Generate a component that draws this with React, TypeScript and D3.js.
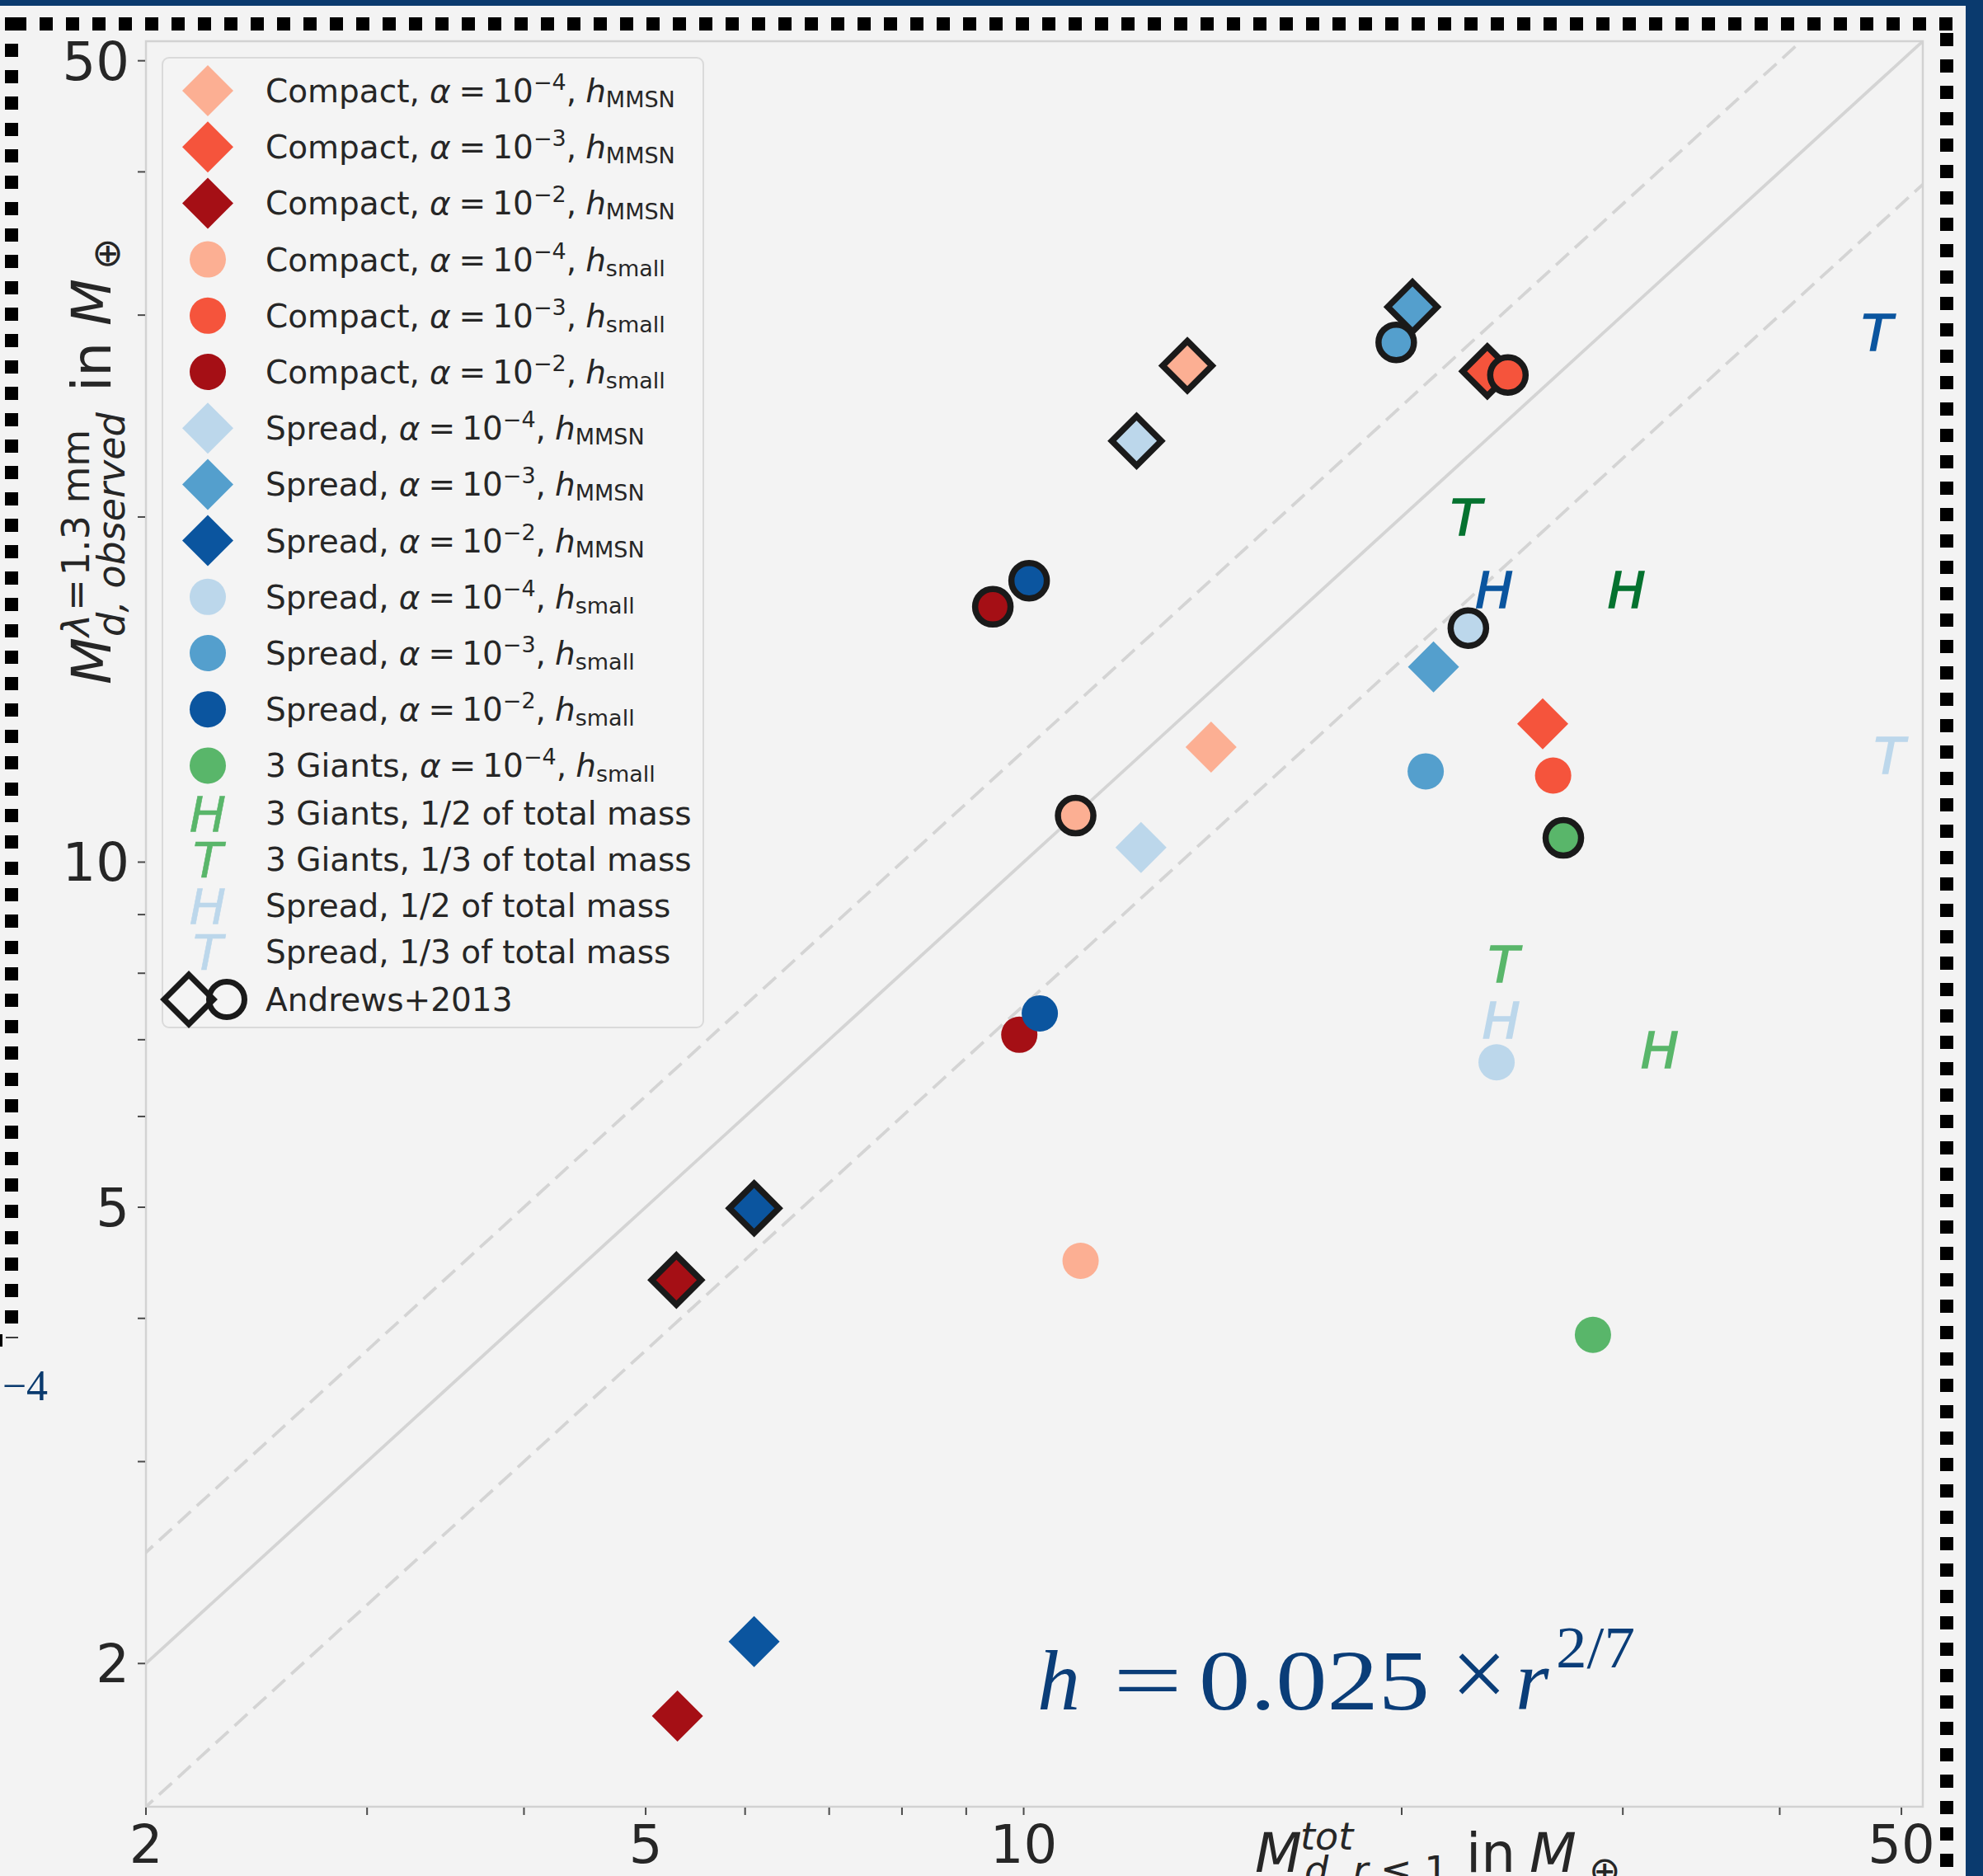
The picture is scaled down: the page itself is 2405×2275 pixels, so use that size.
import React from 'react';
import * as d3 from 'd3';

const W = 2405;
const H = 2275;
const X0 = 177;
const X1 = 2332;
const Y0 = 50;
const Y1 = 2191;

const BG = '#f3f3f3';
const TEXT = '#262626';
const NAVY = '#0a3a6e';
const EDGE = '#1a1a1a';
const FONT = "'DejaVu Sans', sans-serif";

// model series, in legend order
const seriesName = ['Compact', 'Compact', 'Compact', 'Compact', 'Compact', 'Compact',
  'Spread', 'Spread', 'Spread', 'Spread', 'Spread', 'Spread', '3 Giants'];
const seriesAlpha = ['−4', '−3', '−2', '−4', '−3', '−2', '−4', '−3', '−2', '−4', '−3', '−2', '−4'];
const seriesH = ['MMSN', 'MMSN', 'MMSN', 'small', 'small', 'small',
  'MMSN', 'MMSN', 'MMSN', 'small', 'small', 'small', 'small'];
const seriesShape = ['D', 'D', 'D', 'o', 'o', 'o', 'D', 'D', 'D', 'o', 'o', 'o', 'o'];
const seriesColor = ['#fcaf93', '#f5543c', '#a50f15', '#fcaf93', '#f5543c', '#a50f15',
  '#bcd7eb', '#549fcd', '#0b559f', '#bcd7eb', '#549fcd', '#0b559f', '#59b66a'];

// plain markers (model) and black-edged markers (Andrews+2013)
const modelX = [14.1, 25.9, 5.30, 11.1, 26.4, 9.92, 12.4, 21.2, 6.10, 23.8, 20.9, 10.3, 28.4];
const modelY = [12.6, 13.2, 1.80, 4.49, 11.9, 7.07, 10.3, 14.8, 2.09, 6.69, 12.0, 7.38, 3.87];
const andrewsX = [13.5, 23.4, 5.29, 11.0, 24.3, 9.45, 12.3, 20.4, 6.10, 22.6, 19.8, 10.1, 26.9];
const andrewsY = [27.1, 26.8, 4.32, 10.98, 26.6, 16.7, 23.3, 30.5, 4.99, 16.0, 28.4, 17.6, 10.5];
const andrewsOrder = [9, 10, 11, 6, 7, 8, 0, 1, 2, 3, 4, 5, 12];

// letter markers
const letterLabel = ['3 Giants, 1/2 of total mass', '3 Giants, 1/3 of total mass',
  'Spread, 1/2 of total mass', 'Spread, 1/3 of total mass'];
const letterGlyph = ['H', 'T', 'H', 'T'];
const letterColor = ['#59b66a', '#59b66a', '#bcd7eb', '#bcd7eb'];
const letterDark = ['#05722f', '#05722f', '#0b559f', '#0b559f'];
const letterModelX = [32.1, 24.1, 24.0, 48.9];
const letterModelY = [6.86, 8.15, 7.29, 12.4];
const letterAndrewsX = [30.2, 22.5, 23.7, 47.8];
const letterAndrewsY = [17.3, 20.0, 17.3, 29.0];

const diagFactors = [1, 1.25, 0.75];

const xMajor = [2, 5, 10, 50];
const xMinor = [3, 4, 6, 7, 8, 9, 20, 30, 40];
const yMajor = [2, 5, 10, 50];
const yMinor = [3, 4, 6, 7, 8, 9, 20, 30, 40];

const diamond = (cx: number, cy: number, r: number) =>
  `M${cx},${cy - r}L${cx + r},${cy}L${cx},${cy + r}L${cx - r},${cy}Z`;

function Marker({ shape, cx, cy, fill, edged }: any) {
  const sw = edged ? 7.5 : 0;
  if (shape === 'D') {
    return <path d={diamond(cx, cy, edged ? 30 : 31)} fill={fill}
      stroke={edged ? EDGE : 'none'} strokeWidth={sw} strokeLinejoin="miter" />;
  }
  return <circle cx={cx} cy={cy} r={edged ? 21.5 : 22} fill={fill}
    stroke={edged ? EDGE : 'none'} strokeWidth={sw} />;
}

function Letter({ cx, cy, glyph, color, fs, sw }: any) {
  return (
    <text x={cx} y={cy + fs * 0.365} fontSize={fs} fontStyle="italic" textAnchor="middle"
      fill={color} stroke={color} strokeWidth={sw} fontFamily={FONT}>{glyph}</text>
  );
}

export default function App() {
  const x = d3.scaleLog().domain([2, 52]).range([X0, X1]);
  const y = d3.scaleLog().domain([1.5, 52]).range([Y1, Y0]);

  const diagLine = (k: number) =>
    d3.line<number>().x((v) => x(v)).y((v) => y(k * v))([1.4, 52]) as string;

  // legend rows
  const fsL = 39;
  const rowY: number[] = [];
  for (let i = 0; i < 13; i++) rowY.push(110 + i * 68.2);
  for (let i = 0; i < 4; i++) rowY.push(986 + i * 56);
  rowY.push(1212);
  const mX = 252;
  const tX = 322;

  return (
    <div style={{ position: 'absolute', left: 0, top: 0, lineHeight: 0 }}>
      <svg width={W} height={H} style={{ display: 'block', fontFamily: FONT }}>
        <defs>
          <clipPath id="axclip">
            <rect x={X0} y={Y0} width={X1 - X0} height={Y1 - Y0} />
          </clipPath>
        </defs>
        <rect x={0} y={0} width={W} height={H} fill={BG} />

        {/* slide frame */}
        <rect x={0} y={0} width={W} height={7} fill={NAVY} />
        <rect x={2384} y={0} width={21} height={H} fill={NAVY} />
        <line x1={16} y1={29} x2={2369} y2={29} stroke="#000" strokeWidth={16} strokeDasharray="16 16" />
        <line x1={14} y1={21} x2={14} y2={1605} stroke="#000" strokeWidth={16} strokeDasharray="16 16" />
        <line x1={2361} y1={40} x2={2361} y2={H} stroke="#000" strokeWidth={16} strokeDasharray="16 16" />
        <rect x={0} y={1618} width={3} height={15} fill="#000" />
        <line x1={7} y1={1622} x2={22} y2={1622} stroke="#000" strokeWidth={1.5} />
        <text x={58} y={1698} fontSize={52} textAnchor="end" fill={NAVY}
          fontFamily="'Liberation Serif', serif">−4</text>

        {/* axes */}
        <g clipPath="url(#axclip)">
          {diagFactors.map((k, i) => (
            <path key={i} d={diagLine(k)} fill="none" stroke="#d4d4d4" strokeWidth={3.8}
              strokeDasharray={k === 1 ? undefined : '21 10'} />
          ))}
        </g>
        <rect x={X0} y={Y0} width={X1 - X0} height={Y1 - Y0} fill="none" stroke="#d2d2d2" strokeWidth={2.5} />

        {xMajor.concat(xMinor).map((v) => (
          <line key={'xt' + v} x1={x(v)} x2={x(v)} y1={Y1 + 1} y2={Y1 + 10} stroke="#4a4a4a" strokeWidth={2} />
        ))}
        {yMajor.concat(yMinor).map((v) => (
          <line key={'yt' + v} x1={X0 - 10} x2={X0 - 1} y1={y(v)} y2={y(v)} stroke="#4a4a4a" strokeWidth={2} />
        ))}
        {xMajor.map((v) => (
          <text key={'xl' + v} x={x(v)} y={2259} fontSize={64} textAnchor="middle" fill={TEXT}>{v}</text>
        ))}
        {yMajor.map((v) => (
          <text key={'yl' + v} x={157} y={y(v) + 23} fontSize={64} textAnchor="end" fill={TEXT}>{v}</text>
        ))}

        {/* x label */}
        <g fill={TEXT}>
          <text x={1522} y={2270} fontSize={66} fontStyle="italic">M</text>
          <text x={1577} y={2243} fontSize={46} fontStyle="italic">tot</text>
          <text x={1582} y={2284} fontSize={46} style={{ whiteSpace: 'pre' }}>
            <tspan fontStyle="italic">d</tspan>,<tspan fontStyle="italic"> r</tspan> ≤ 1
          </text>
          <text x={1778} y={2270} fontSize={66}>in</text>
          <text x={1855} y={2270} fontSize={66} fontStyle="italic">M</text>
          <text x={1927} y={2284} fontSize={46}>⊕</text>
        </g>

        {/* y label */}
        <g transform="translate(134,830) rotate(-90)" fill={TEXT}>
          <text x={0} y={0} fontSize={66} fontStyle="italic">M</text>
          <text x={58} y={-26} fontSize={46} style={{ whiteSpace: 'pre' }}>
            <tspan fontStyle="italic">λ</tspan>
            <tspan dx={4}>=</tspan>
            <tspan dx={4}>1.3 mm</tspan>
          </text>
          <text x={58} y={17} fontSize={46} fontStyle="italic">d, observed</text>
          <text x={355} y={0} fontSize={66}>in</text>
          <text x={435} y={0} fontSize={66} fontStyle="italic">M</text>
          <text x={503} y={11} fontSize={46}>⊕</text>
        </g>

        {/* data */}
        {modelX.map((v, i) => (
          <Marker key={'m' + i} shape={seriesShape[i]} cx={x(v)} cy={y(modelY[i])} fill={seriesColor[i]} />
        ))}
        {letterModelX.map((v, i) => (
          <Letter key={'lm' + i} cx={x(v)} cy={y(letterModelY[i])} glyph={letterGlyph[i]}
            color={letterColor[i]} fs={61} sw={1.6} />
        ))}
        {letterAndrewsX.map((v, i) => (
          <Letter key={'la' + i} cx={x(v)} cy={y(letterAndrewsY[i])} glyph={letterGlyph[i]}
            color={letterDark[i]} fs={61} sw={1.6} />
        ))}
        {andrewsOrder.map((i) => (
          <Marker key={'a' + i} shape={seriesShape[i]} cx={x(andrewsX[i])} cy={y(andrewsY[i])}
            fill={seriesColor[i]} edged />
        ))}

        {/* formula */}
        <g fill="#0a3d78" fontFamily="'Liberation Serif', serif">
          <text x={1258} y={2073} fontSize={104} fontStyle="italic">h</text>
          <text x={1350} y={2073} fontSize={104} textLength={84} lengthAdjust="spacingAndGlyphs">=</text>
          <text x={1454} y={2073} fontSize={104} textLength={280} lengthAdjust="spacingAndGlyphs">0.025</text>
          <text x={1760} y={2070} fontSize={120}>×</text>
          <text x={1838} y={2073} fontSize={104} fontStyle="italic">r</text>
          <text x={1887} y={2022} fontSize={72} textLength={96} lengthAdjust="spacingAndGlyphs">2/7</text>
        </g>

        {/* legend */}
        <rect x={197} y={70} width={656} height={1176} rx={8} fill="#f4f4f4" stroke="#dadada" strokeWidth={2} />
        {seriesName.map((name, i) => (
          <g key={'lg' + i}>
            <Marker shape={seriesShape[i]} cx={mX} cy={rowY[i]} fill={seriesColor[i]} />
            <text x={tX} y={rowY[i] + 14} fontSize={fsL} fill={TEXT} style={{ whiteSpace: 'pre' }}>
              <tspan>{name + ','}</tspan>
              <tspan dx={12} fontStyle="italic">α</tspan>
              <tspan dx={10}>=</tspan>
              <tspan dx={8}>10</tspan>
              <tspan fontSize={27} dy={-15}>{seriesAlpha[i]}</tspan>
              <tspan dy={15}>{','}</tspan>
              <tspan dx={11} fontStyle="italic">h</tspan>
              <tspan fontSize={27} dy={6}>{seriesH[i]}</tspan>
            </text>
          </g>
        ))}
        {letterLabel.map((lab, j) => (
          <g key={'ll' + j}>
            <Letter cx={mX} cy={rowY[13 + j]} glyph={letterGlyph[j]} color={letterColor[j]} fs={59} sw={0.6} />
            <text x={tX} y={rowY[13 + j] + 14} fontSize={fsL} fill={TEXT}>{lab}</text>
          </g>
        ))}
        <path d={diamond(229, rowY[17], 30)} fill="none" stroke={EDGE} strokeWidth={7} />
        <circle cx={275} cy={rowY[17]} r={21.5} fill="none" stroke={EDGE} strokeWidth={7} />
        <text x={tX} y={rowY[17] + 14} fontSize={fsL} fill={TEXT}>Andrews+2013</text>
      </svg>
    </div>
  );
}
